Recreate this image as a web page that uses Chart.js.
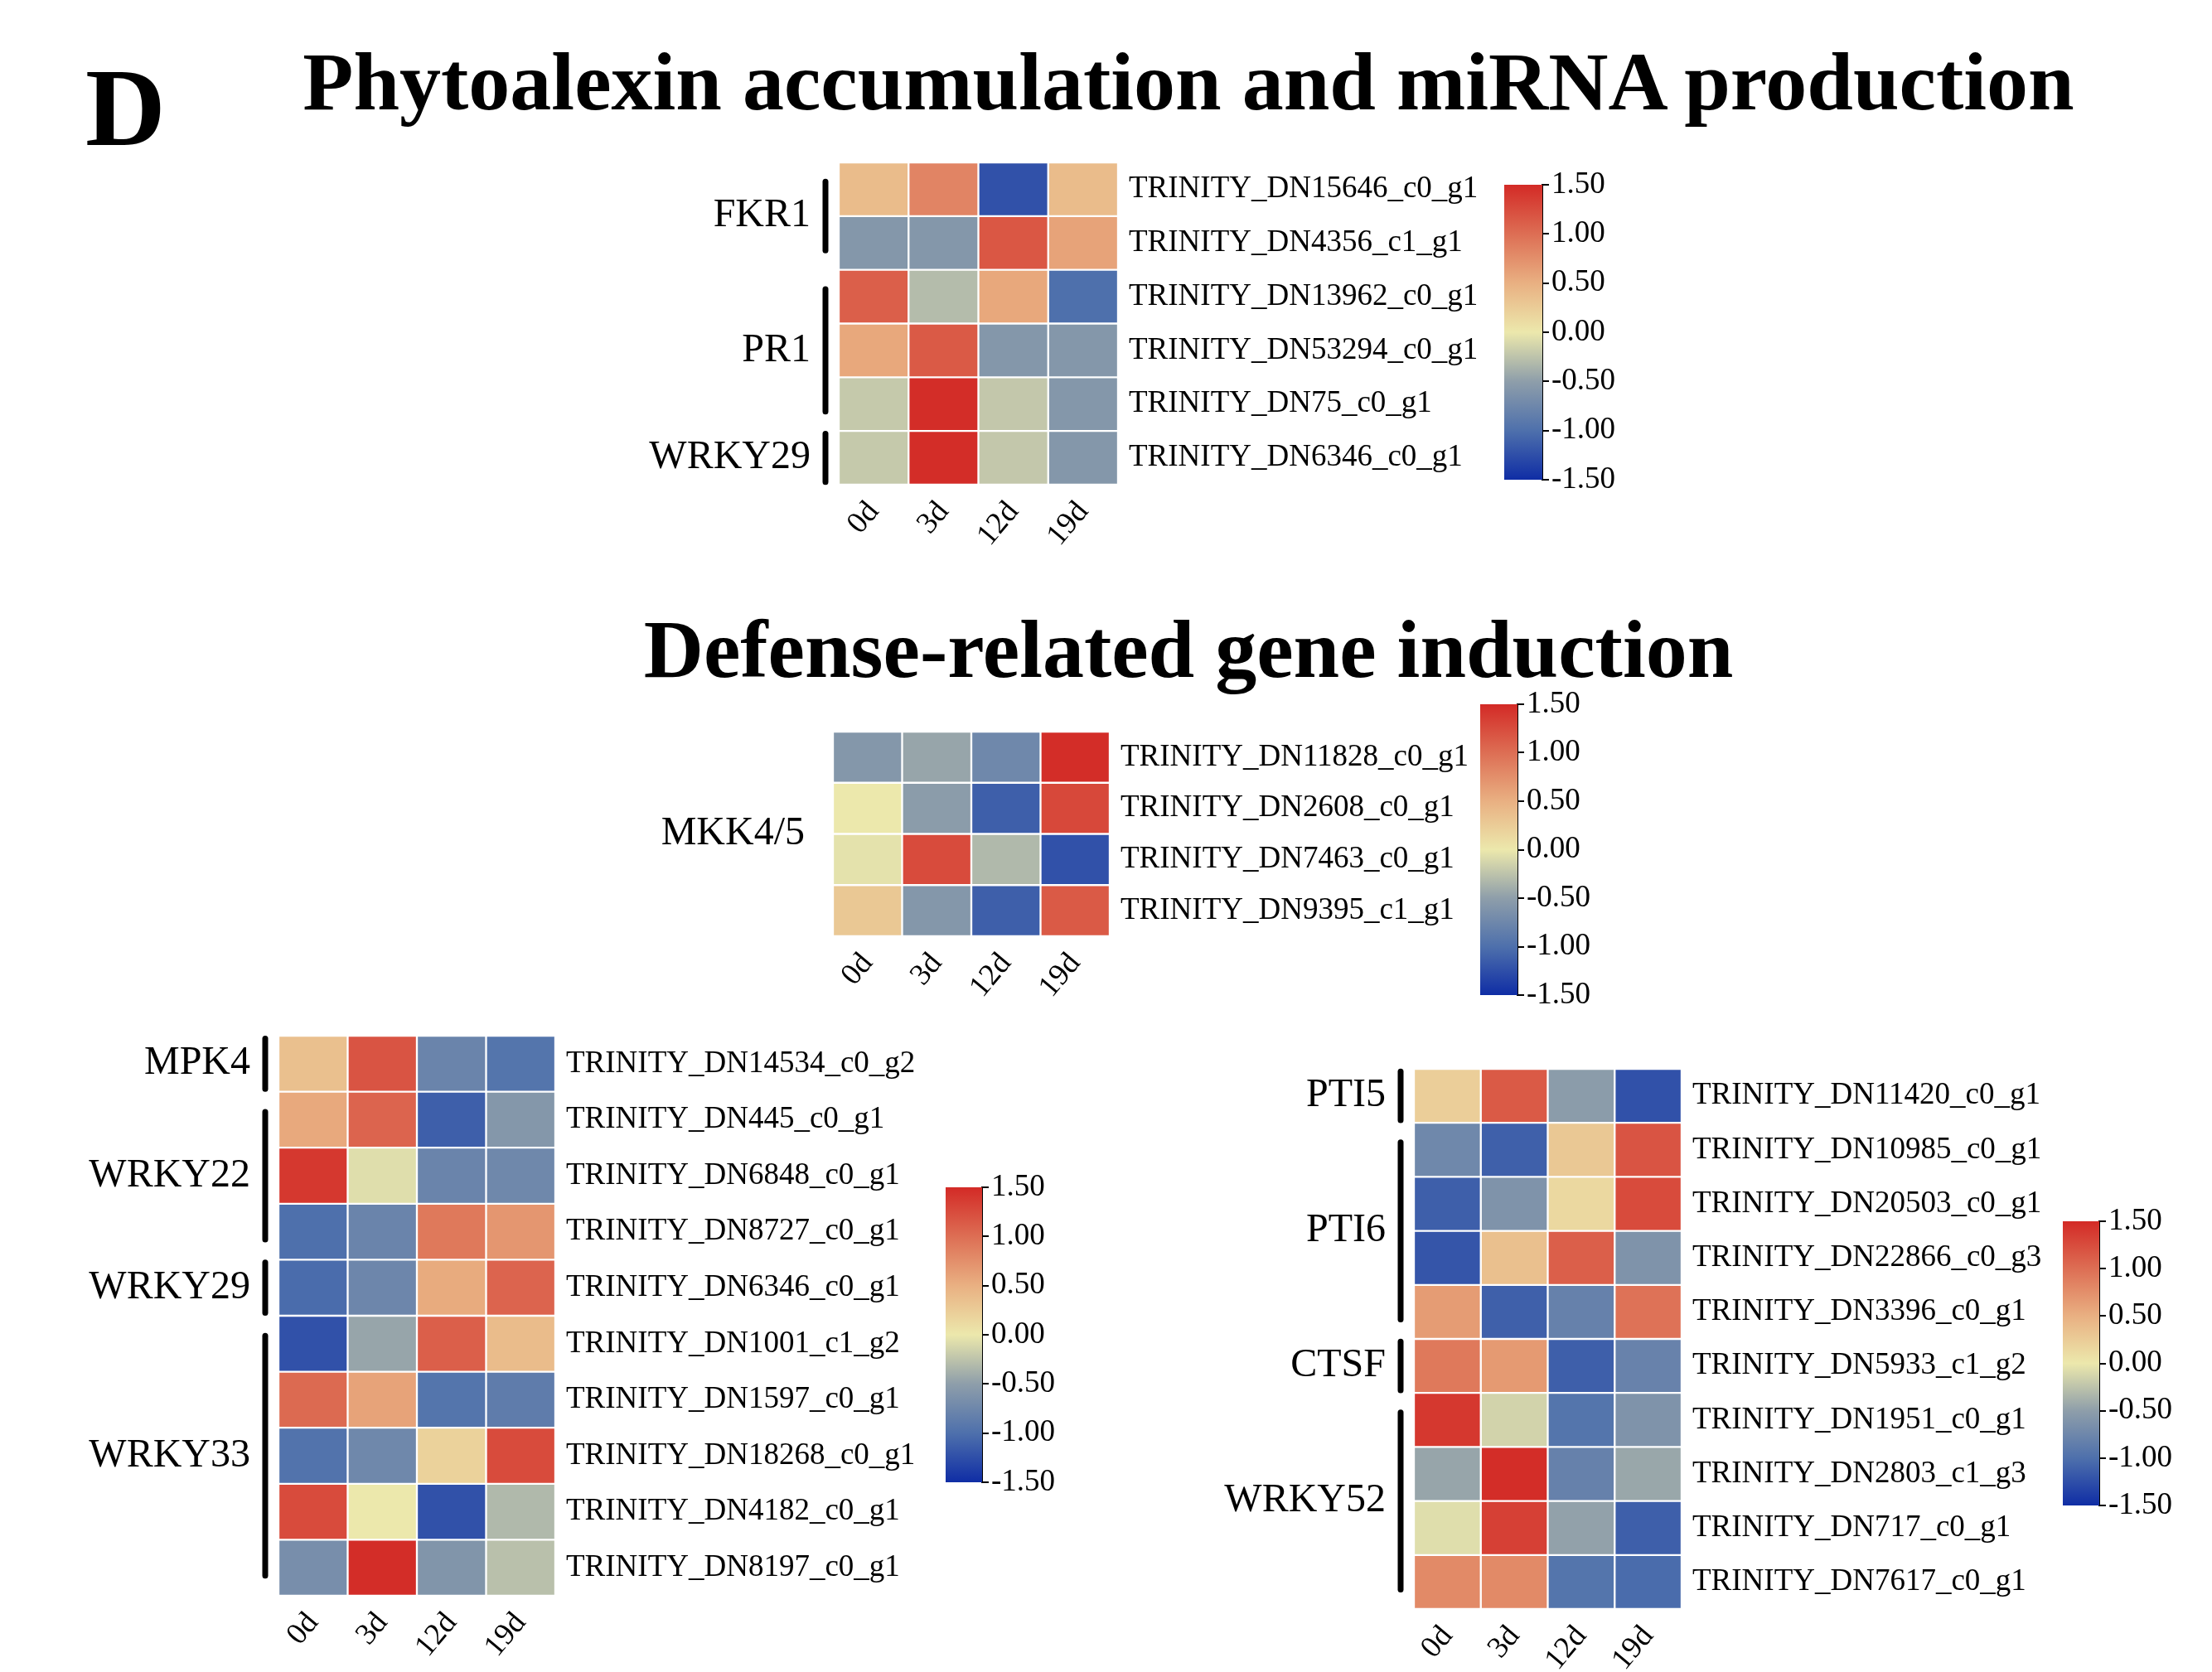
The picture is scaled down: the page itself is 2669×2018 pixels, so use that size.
<!DOCTYPE html>
<html><head><meta charset="utf-8">
<script src="https://cdn.jsdelivr.net/npm/chart.js@4.4.1/dist/chart.umd.min.js"></script>
<style>
html,body{margin:0;padding:0;background:#fff;}
body{width:2669px;height:2018px;position:relative;overflow:hidden;font-family:'Liberation Serif','Times New Roman',serif;}
.t{position:absolute;font-weight:bold;color:#000;line-height:1;white-space:nowrap;}
.box{position:absolute;}
</style></head><body>
<div class="t" style="left:103px;top:63px;font-size:134px;">D</div>
<div class="t" style="left:0;width:2868px;text-align:center;top:49px;font-size:100px;">Phytoalexin accumulation and miRNA production</div>
<div class="t" style="left:0;width:2868px;text-align:center;top:734px;font-size:100px;">Defense-related gene induction</div>
<script>
// ---------- data ----------
const timePoints = ['0d', '3d', '12d', '19d'];
const colorTicks = [-1.5, -1, -0.5, 0, 0.5, 1, 1.5];

const phytoGenes = ['TRINITY_DN15646_c0_g1', 'TRINITY_DN4356_c1_g1', 'TRINITY_DN13962_c0_g1',
  'TRINITY_DN53294_c0_g1', 'TRINITY_DN75_c0_g1', 'TRINITY_DN6346_c0_g1'];
const phytoValues = [
  [0.39, 0.83, -1.23, 0.39],
  [-0.58, -0.58, 1.17, 0.60],
  [1.11, -0.30, 0.56, -1.00],
  [0.56, 1.15, -0.58, -0.58],
  [-0.21, 1.48, -0.22, -0.58],
  [-0.21, 1.48, -0.22, -0.58]
];
const phytoGroupNames = ['FKR1', 'PR1', 'WRKY29'];
const phytoGroupFirst = [0, 2, 5];
const phytoGroupLast = [1, 4, 5];

const mkkGenes = ['TRINITY_DN11828_c0_g1', 'TRINITY_DN2608_c0_g1', 'TRINITY_DN7463_c0_g1', 'TRINITY_DN9395_c1_g1'];
const mkkValues = [
  [-0.58, -0.45, -0.74, 1.48],
  [0.00, -0.52, -1.13, 1.28],
  [-0.04, 1.26, -0.32, -1.23],
  [0.29, -0.58, -1.13, 1.15]
];
const mkkGroupNames = ['MKK4/5'];
const mkkGroupFirst = [0];
const mkkGroupLast = [3];

const wrkyGenes = ['TRINITY_DN14534_c0_g2', 'TRINITY_DN445_c0_g1', 'TRINITY_DN6848_c0_g1', 'TRINITY_DN8727_c0_g1',
  'TRINITY_DN6346_c0_g1', 'TRINITY_DN1001_c1_g2', 'TRINITY_DN1597_c0_g1', 'TRINITY_DN18268_c0_g1',
  'TRINITY_DN4182_c0_g1', 'TRINITY_DN8197_c0_g1'];
const wrkyValues = [
  [0.36, 1.19, -0.78, -0.95],
  [0.55, 1.07, -1.13, -0.58],
  [1.40, -0.07, -0.78, -0.74],
  [-1.00, -0.78, 0.92, 0.70],
  [-1.03, -0.76, 0.54, 1.07],
  [-1.23, -0.45, 1.11, 0.39],
  [1.03, 0.60, -0.95, -0.87],
  [-0.97, -0.74, 0.20, 1.26],
  [1.26, 0.00, -1.23, -0.32],
  [-0.67, 1.48, -0.60, -0.27]
];
const wrkyGroupNames = ['MPK4', 'WRKY22', 'WRKY29', 'WRKY33'];
const wrkyGroupFirst = [0, 1, 4, 5];
const wrkyGroupLast = [0, 3, 4, 9];

const ptiGenes = ['TRINITY_DN11420_c0_g1', 'TRINITY_DN10985_c0_g1', 'TRINITY_DN20503_c0_g1', 'TRINITY_DN22866_c0_g3',
  'TRINITY_DN3396_c0_g1', 'TRINITY_DN5933_c1_g2', 'TRINITY_DN1951_c0_g1', 'TRINITY_DN2803_c1_g3',
  'TRINITY_DN717_c0_g1', 'TRINITY_DN7617_c0_g1'];
const ptiValues = [
  [0.23, 1.15, -0.52, -1.23],
  [-0.74, -1.12, 0.29, 1.19],
  [-1.13, -0.62, 0.14, 1.26],
  [-1.20, 0.36, 1.11, -0.62],
  [0.65, -1.12, -0.81, 0.97],
  [0.92, 0.67, -1.13, -0.80],
  [1.40, -0.14, -0.95, -0.62],
  [-0.45, 1.48, -0.81, -0.44],
  [-0.07, 1.34, -0.48, -1.13],
  [0.79, 0.79, -0.95, -1.03]
];
const ptiGroupNames = ['PTI5', 'PTI6', 'CTSF', 'WRKY52'];
const ptiGroupFirst = [0, 1, 5, 6];
const ptiGroupLast = [0, 4, 5, 9];

// ---------- style ----------
const FONT = "'Liberation Serif', 'Times New Roman', serif";
const paletteStops = [-1.5, -1, -0.5, 0, 0.5, 1, 1.5];
const paletteRGB = [[15,45,165],[78,112,172],[142,158,170],[236,232,172],[233,176,130],[221,110,84],[211,42,38]];

function colorFor(v) {
  const lo = paletteStops[0], hi = paletteStops[paletteStops.length - 1];
  v = Math.max(lo, Math.min(hi, v));
  let i = 0;
  while (i < paletteStops.length - 2 && v > paletteStops[i + 1]) i++;
  const t = (v - paletteStops[i]) / (paletteStops[i + 1] - paletteStops[i]);
  const a = paletteRGB[i], b = paletteRGB[i + 1];
  const c = a.map((x, k) => Math.round(x + (b[k] - x) * t));
  return 'rgb(' + c.join(',') + ')';
}

function makeGroupPlugin(names, first, last, bars) {
  return {
    id: 'groupBrackets',
    afterDraw(chart) {
      const ys = chart.scales.y, area = chart.chartArea, c = chart.ctx;
      const rowH = Math.abs(ys.getPixelForValue(1) - ys.getPixelForValue(0));
      c.save();
      names.forEach((name, i) => {
        const y0 = ys.getPixelForValue(first[i]);
        const y1 = ys.getPixelForValue(last[i] + 1);
        const n = last[i] - first[i] + 1;
        const inset = n > 1 ? rowH * 0.36 : rowH * 0.05;
        if (bars) {
          c.strokeStyle = '#000';
          c.lineWidth = 7;
          c.lineCap = 'round';
          c.beginPath();
          c.moveTo(area.left - 16, y0 + inset);
          c.lineTo(area.left - 16, y1 - inset);
          c.stroke();
        }
        c.fillStyle = '#000';
        c.font = '48px ' + FONT;
        c.textAlign = 'right';
        c.textBaseline = 'middle';
        c.fillText(name, area.left - 34, (y0 + y1) / 2);
      });
      c.restore();
    }
  };
}

function addCanvas(left, top, w, h) {
  const d = document.createElement('div');
  d.className = 'box';
  d.style.left = left + 'px'; d.style.top = top + 'px';
  d.style.width = w + 'px'; d.style.height = h + 'px';
  const cv = document.createElement('canvas');
  cv.width = w; cv.height = h;
  cv.style.width = w + 'px'; cv.style.height = h + 'px';
  d.appendChild(cv);
  document.body.appendChild(d);
  return cv;
}

function heatmap(box, genes, values, gNames, gFirst, gLast, gBars) {
  const PADL = 340, PADT = 60, RIGHTW = 480, BOTH = 110;
  const cv = addCanvas(box.x - PADL, box.y - PADT, PADL + box.w + RIGHTW, PADT + box.h + BOTH);
  const datasets = genes.map((g, r) => ({
    label: g,
    data: timePoints.map(() => [r, r + 1]),
    backgroundColor: values[r].map(colorFor),
    borderColor: '#ffffff',
    borderWidth: 1.5,
    borderSkipped: false,
    grouped: false,
    barPercentage: 1,
    categoryPercentage: 1
  }));
  new Chart(cv, {
    type: 'bar',
    data: { labels: timePoints, datasets },
    plugins: [makeGroupPlugin(gNames, gFirst, gLast, gBars)],
    options: {
      responsive: false, animation: false, devicePixelRatio: 1,
      layout: { padding: { left: PADL, top: PADT, right: 0, bottom: 0 } },
      plugins: { legend: { display: false }, tooltip: { enabled: false } },
      scales: {
        x: {
          type: 'category', position: 'bottom',
          grid: { display: false }, border: { display: false },
          ticks: { minRotation: 50, maxRotation: 50, autoSkip: false, padding: 4, color: '#000',
                   font: { family: FONT, size: 37 } },
          afterFit: s => { s.height = BOTH; }
        },
        y: { type: 'linear', display: false, min: 0, max: genes.length, reverse: true },
        yLab: {
          type: 'category', labels: genes, position: 'right', offset: true,
          grid: { display: false }, border: { display: false },
          ticks: { padding: 5, color: '#000', autoSkip: false, font: { family: FONT, size: 37 } },
          afterFit: s => { s.width = RIGHTW; }
        }
      }
    }
  });
}

function colorbar(box) {
  const PADV = 26, AXW = 130;
  const cv = addCanvas(box.x, box.y - PADV, box.w + AXW, box.h + 2 * PADV);
  new Chart(cv, {
    type: 'bar',
    data: {
      labels: [''],
      datasets: [{
        data: [[colorTicks[0], colorTicks[colorTicks.length - 1]]],
        backgroundColor: ctx => {
          const a = ctx.chart.chartArea;
          if (!a) return '#888';
          const g = ctx.chart.ctx.createLinearGradient(0, a.bottom, 0, a.top);
          paletteStops.forEach((s, i) => {
            g.addColorStop((s - paletteStops[0]) / (paletteStops[paletteStops.length - 1] - paletteStops[0]),
              'rgb(' + paletteRGB[i].join(',') + ')');
          });
          return g;
        },
        borderWidth: 0,
        barPercentage: 1,
        categoryPercentage: 1
      }]
    },
    options: {
      responsive: false, animation: false, devicePixelRatio: 1,
      layout: { padding: { left: 0, top: PADV, right: 0, bottom: PADV } },
      plugins: { legend: { display: false }, tooltip: { enabled: false } },
      scales: {
        x: { display: false },
        y: {
          type: 'linear', position: 'right',
          min: colorTicks[0], max: colorTicks[colorTicks.length - 1],
          afterBuildTicks: s => { s.ticks = colorTicks.map(v => ({ value: v })); },
          ticks: { padding: 3, color: '#000', font: { family: FONT, size: 37 },
                   callback: v => Number(v).toFixed(2) },
          grid: { display: true, drawOnChartArea: false, drawTicks: true, tickLength: 8, color: '#000', lineWidth: 2 },
          border: { display: true, color: '#000', width: 2 },
          afterFit: s => { s.width = AXW; }
        }
      }
    }
  });
}

heatmap({ x: 1012, y: 196, w: 337, h: 389 }, phytoGenes, phytoValues, phytoGroupNames, phytoGroupFirst, phytoGroupLast, true);
colorbar({ x: 1815, y: 223, w: 46, h: 356 });

heatmap({ x: 1005, y: 883, w: 334, h: 247 }, mkkGenes, mkkValues, mkkGroupNames, mkkGroupFirst, mkkGroupLast, false);
colorbar({ x: 1786, y: 850, w: 45, h: 351 });

heatmap({ x: 336, y: 1250, w: 334, h: 676 }, wrkyGenes, wrkyValues, wrkyGroupNames, wrkyGroupFirst, wrkyGroupLast, true);
colorbar({ x: 1141, y: 1433, w: 44, h: 356 });

heatmap({ x: 1706, y: 1290, w: 323, h: 652 }, ptiGenes, ptiValues, ptiGroupNames, ptiGroupFirst, ptiGroupLast, true);
colorbar({ x: 2489, y: 1474, w: 44, h: 343 });
</script>
</body></html>
